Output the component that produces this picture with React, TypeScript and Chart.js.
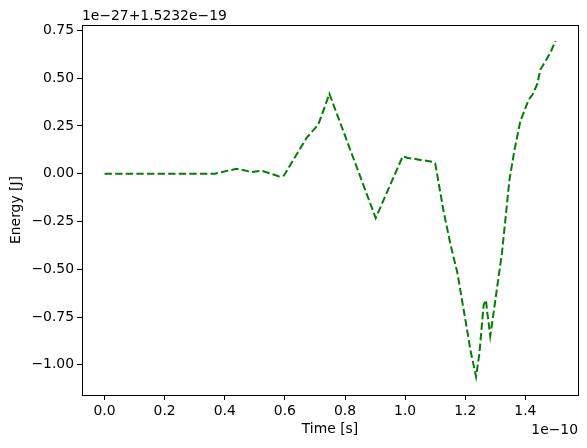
import { useEffect, useRef } from 'react';
import { Chart, registerables } from 'chart.js';

Chart.register(...registerables);

// time in units of 1e-10 s
const TIME = [
  0, 0.367, 0.439, 0.489, 0.522, 0.581, 0.597, 0.672, 0.711, 0.748, 0.902, 0.992, 1.01, 1.03, 1.05,
  1.07, 1.09, 1.1, 1.128, 1.15, 1.174, 1.208, 1.217, 1.236, 1.247, 1.261, 1.269, 1.272, 1.278,
  1.283, 1.294, 1.311, 1.322, 1.347, 1.364, 1.383, 1.411, 1.424, 1.439, 1.45, 1.467, 1.483, 1.5,
];
// energy in units of 1e-27 J, offset by 1.5232e-19
const ENERGY = [
  0, 0, 0.026, 0.009, 0.016, -0.014, -0.009, 0.187, 0.257, 0.418, -0.232, 0.091, 0.082, 0.078,
  0.072, 0.068, 0.062, 0.054, -0.198, -0.364, -0.521, -0.836, -0.923, -1.063, -0.94, -0.687,
  -0.661, -0.713, -0.783, -0.849, -0.73, -0.538, -0.416, -0.031, 0.126, 0.274, 0.388, 0.414,
  0.467, 0.545, 0.589, 0.633, 0.694,
];
const X_TICKS = [0, 0.2, 0.4, 0.6, 0.8, 1.0, 1.2, 1.4];
const Y_TICKS = [-1.0, -0.75, -0.5, -0.25, 0, 0.25, 0.5, 0.75];

const FONT = 'DejaVu Sans';
const SIZE = 13.9;

const fmt = (v: number, digits: number) => {
  const s = v.toFixed(digits);
  return s.startsWith('-') ? '\u2212' + s.slice(1) : s;
};

const framePlugin = {
  id: 'frame',
  afterDraw(chart: Chart) {
    const { ctx, chartArea } = chart;
    ctx.save();
    ctx.strokeStyle = '#000';
    ctx.lineWidth = 1;
    ctx.strokeRect(
      Math.round(chartArea.left) + 0.5,
      Math.round(chartArea.top) + 0.5,
      Math.round(chartArea.right - chartArea.left),
      Math.round(chartArea.bottom - chartArea.top)
    );
    ctx.fillStyle = '#000';
    ctx.font = `${SIZE}px "${FONT}"`;
    ctx.textBaseline = 'alphabetic';
    ctx.textAlign = 'left';
    ctx.fillText('1e\u221227+1.5232e\u221219', chartArea.left, chartArea.top - 5);
    ctx.textAlign = 'right';
    ctx.textBaseline = 'middle';
    ctx.fillText('1e\u221210', chartArea.right, 430);
    ctx.restore();
  },
};

export default function App() {
  const canvasRef = useRef<HTMLCanvasElement>(null);
  const chartRef = useRef<Chart | null>(null);

  useEffect(() => {
    document.body.style.margin = '0';
    if (!canvasRef.current) return;
    const ctx = canvasRef.current.getContext('2d');
    if (!ctx) return;
    chartRef.current?.destroy();

    chartRef.current = new Chart(ctx, {
      type: 'scatter',
      data: {
        datasets: [
          {
            label: 'Energy',
            data: TIME.map((t, i) => ({ x: t, y: ENERGY[i] })),
            showLine: true,
            borderColor: '#008000',
            borderWidth: 2,
            borderDash: [7.4, 3.2],
            pointRadius: 0,
            fill: false,
            tension: 0,
          },
        ],
      },
      options: {
        animation: false,
        responsive: false,
        layout: { padding: { top: 25, right: 9, left: 8, bottom: 10 } },
        plugins: { legend: { display: false }, tooltip: { enabled: false } },
        scales: {
          x: {
            type: 'linear',
            min: -0.075,
            max: 1.575,
            afterBuildTicks: (scale: any) => {
              scale.ticks = X_TICKS.map((v) => ({ value: v }));
            },
            afterFit: (scale: any) => {
              scale.height = 43;
            },
            ticks: {
              color: '#000',
              font: { family: FONT, size: SIZE },
              padding: 3,
              maxRotation: 0,
              callback: (v: any) => fmt(Number(v), 1),
            },
            grid: {
              drawOnChartArea: false,
              drawTicks: true,
              tickLength: 5,
              color: '#000',
            },
            border: { display: false },
            title: {
              display: true,
              text: 'Time [s]',
              color: '#000',
              font: { family: FONT, size: SIZE },
              padding: { top: 2, bottom: 0 },
            },
          },
          y: {
            type: 'linear',
            min: -1.158,
            max: 0.778,
            afterBuildTicks: (scale: any) => {
              scale.ticks = Y_TICKS.map((v) => ({ value: v }));
            },
            afterFit: (scale: any) => {
              scale.width = 74;
            },
            ticks: {
              color: '#000',
              font: { family: FONT, size: SIZE },
              padding: 3,
              callback: (v: any) => fmt(Number(v), 2),
            },
            grid: {
              drawOnChartArea: false,
              drawTicks: true,
              tickLength: 5,
              color: '#000',
            },
            border: { display: false },
            title: {
              display: true,
              text: 'Energy [J]',
              color: '#000',
              font: { family: FONT, size: SIZE },
              padding: { top: 0, bottom: 2 },
            },
          },
        },
      },
      plugins: [framePlugin],
    });

    return () => {
      chartRef.current?.destroy();
      chartRef.current = null;
    };
  }, []);

  return (
    <div style={{ width: 587, height: 448, background: '#fff' }}>
      <canvas ref={canvasRef} width={587} height={448} />
    </div>
  );
}
